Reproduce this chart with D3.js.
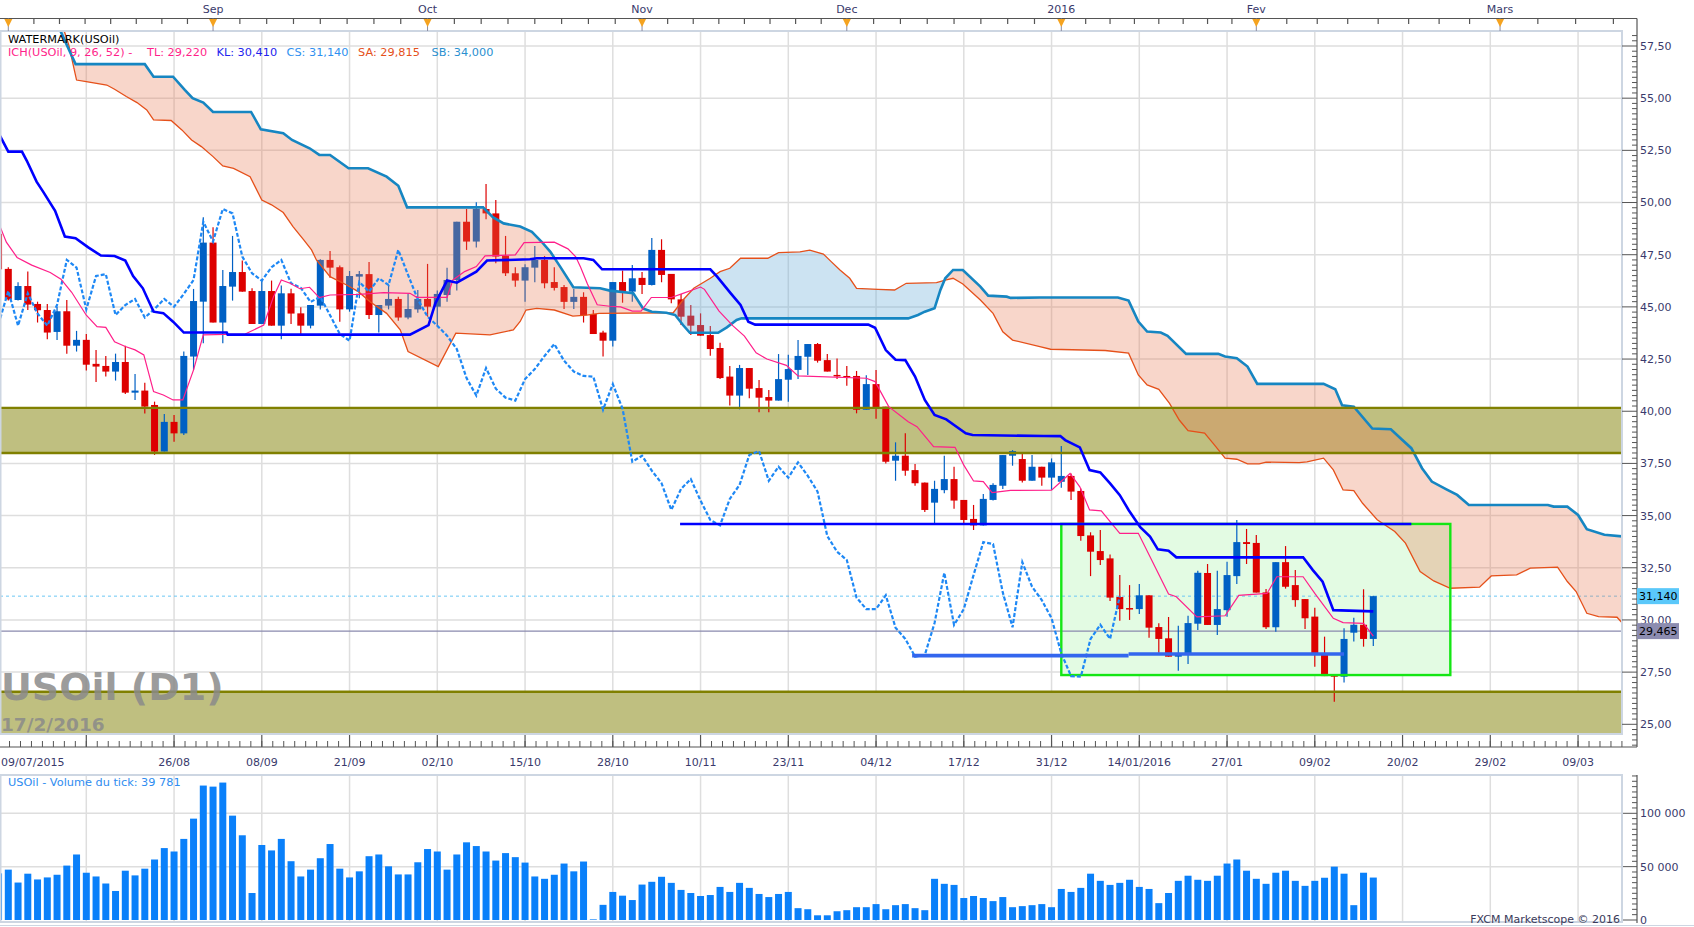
<!DOCTYPE html>
<html><head><meta charset="utf-8">
<script src="https://cdn.jsdelivr.net/npm/d3@7"></script>
<style>
body{margin:0;background:#fff;overflow:hidden}
svg{display:block}
text{font-family:"DejaVu Sans",Verdana,sans-serif}
</style></head>
<body><svg id="c" width="1694" height="927"></svg>
<script>
// ---------- DATA (bar index -1 = 31/07/2015 ... 140 = 17/02/2016) ----------
const firstIndex = -1;
const opens = [48.5,
 46.82,45.33,46.0,45.14,44.85,43.8,44.79,43.14,43.42,42.27,
 42.17,41.9,42.36,40.89,40.99,40.3,38.07,39.49,38.94,42.62,
 45.25,48.08,44.25,45.97,46.67,45.76,44.18,45.76,44.1,45.65,
 44.69,44.1,45.06,47.25,46.9,44.88,46.45,46.57,44.61,45.06,
 45.38,44.49,44.88,45.38,45.01,45.57,46.29,49.08,48.13,49.69,
 49.48,47.44,46.61,46.26,46.88,47.25,46.19,45.95,45.24,45.48,
 44.66,43.77,43.38,46.19,45.73,46.39,46.05,47.73,46.58,45.36,
 44.58,44.13,43.65,43.03,41.66,40.75,42.07,41.11,40.68,40.51,
 41.51,41.98,42.61,43.22,42.45,41.74,41.69,41.69,40.07,41.3,
 40.22,37.63,37.87,37.18,36.58,35.62,36.22,36.75,35.75,34.84,
 34.53,35.75,36.43,37.87,37.71,36.67,37.34,36.82,36.62,36.9,
 36.18,34.05,33.3,32.95,31.1,30.57,30.52,31.18,29.66,29.12,
 28.24,28.4,29.82,32.25,29.76,30.47,32.1,33.73,33.69,31.32,
 29.65,32.77,31.67,31.0,30.16,28.32,27.36,27.28,29.39,29.77,29.09];
const highs = [48.6,
 46.9,46.18,46.69,45.25,45.14,45.01,45.33,43.85,43.7,42.94,
 42.65,42.76,43.14,41.79,41.37,40.46,39.87,39.82,42.86,45.86,
 49.29,48.81,46.77,48.4,47.22,45.89,46.29,46.26,46.03,45.87,
 44.98,45.09,47.28,47.68,46.98,46.72,46.72,47.15,45.09,46.08,
 45.49,45.62,45.81,47.06,45.78,46.88,49.08,49.69,50.01,50.89,
 50.12,48.4,46.9,47.04,47.92,47.44,46.9,46.05,45.86,45.7,
 44.85,43.86,46.19,46.74,47.01,46.67,48.3,48.24,46.58,45.62,
 45.09,44.69,44.08,43.28,42.17,42.22,42.07,41.5,41.02,42.74,
 42.71,43.41,43.22,43.27,42.74,42.53,42.17,41.93,41.72,41.98,
 40.22,38.51,38.94,37.47,36.58,36.67,37.87,37.34,35.75,35.51,
 36.03,36.55,37.9,38.14,38.03,37.9,37.34,37.74,38.33,37.02,
 36.3,34.2,34.31,33.14,32.15,31.67,31.72,31.18,29.84,30.14,
 29.72,30.2,32.36,32.68,32.36,32.79,34.79,34.36,34.07,31.48,
 32.77,33.54,32.39,31.0,30.59,29.2,27.36,29.6,30.11,31.47,31.16];
const lows = [46.7,
 45.3,45.3,44.85,44.25,43.45,43.41,42.76,42.86,41.95,41.4,
 41.66,41.47,40.83,40.54,39.89,37.91,38.07,38.54,38.86,41.98,
 43.26,44.25,43.26,45.3,45.73,44.18,44.18,44.1,43.45,44.18,
 43.7,43.97,44.88,46.4,44.29,44.77,45.41,44.42,43.77,44.88,
 44.34,44.41,44.72,44.53,44.09,45.25,45.78,47.73,47.84,49.2,
 47.09,46.48,45.97,45.25,46.18,45.89,45.78,44.9,44.9,44.25,
 43.7,42.62,43.1,45.2,45.25,45.62,46.03,46.18,45.17,44.13,
 43.65,43.62,42.66,41.54,40.27,40.09,40.62,39.95,39.95,40.51,
 40.46,41.54,41.74,42.33,41.9,41.54,41.22,39.9,40.07,39.64,
 37.5,36.67,36.91,36.43,35.17,34.63,36.07,35.33,34.63,34.31,
 34.53,35.72,36.27,37.39,36.59,36.67,36.43,36.23,36.34,35.75,
 33.8,32.1,32.63,30.91,29.96,30.0,30.28,29.15,28.43,28.24,
 27.57,27.89,29.52,29.76,29.28,30.15,31.72,32.68,31.31,29.57,
 29.44,31.5,30.63,29.57,27.76,27.31,26.08,27.0,28.97,28.72,28.75];
const closes = [46.8,
 45.36,46.0,45.11,44.84,43.77,44.79,43.14,43.42,42.23,42.14,
 41.9,42.36,40.89,40.99,40.22,38.07,39.49,38.94,42.65,45.28,
 48.08,44.25,46.0,46.67,45.73,44.18,45.76,44.1,45.65,44.68,
 44.1,45.09,47.25,46.88,44.88,46.48,46.57,44.61,45.09,45.38,
 44.49,44.9,45.38,45.01,45.62,46.29,49.08,48.13,49.69,49.48,
 47.41,46.61,46.26,46.9,47.25,46.13,45.91,45.24,45.48,44.6,
 43.7,43.38,46.19,45.73,46.37,46.05,47.73,46.53,45.36,44.53,
 44.1,43.62,42.98,41.59,40.75,42.07,41.08,40.65,40.51,41.54,
 42.02,42.65,43.22,42.42,41.9,41.69,41.66,40.07,41.3,40.12,
 37.58,37.87,37.15,36.55,35.27,36.28,36.75,35.72,34.79,34.53,
 35.8,36.47,37.9,38.09,36.67,37.34,36.82,37.55,36.9,36.15,
 34.02,33.27,32.87,31.07,30.52,30.52,31.18,29.63,29.09,28.24,
 28.32,29.85,32.26,29.76,30.52,32.15,33.73,33.64,31.31,29.65,
 32.77,31.59,30.95,30.08,28.4,27.31,27.28,29.09,29.77,29.09,31.14];
const volumes = [43700,
 47200,35100,43400,38000,39900,42400,51000,61400,44300,40800,
 34200,27200,46200,41800,48100,56700,67400,64200,76000,95000,
 126000,125000,128800,97800,79400,25300,70300,65200,76000,55100,
 40800,47200,57900,71200,48100,39900,45600,59800,61400,50300,
 42700,42700,54100,66500,64200,47200,61400,72800,69300,64200,
 55700,62700,58900,53800,40800,38600,42400,52900,45600,54800,
 600,14200,26300,22800,18700,33200,35800,40500,34800,28200,
 25300,22500,23400,31000,26300,34800,30100,24400,21500,24400,
 26300,11100,10100,4400,4400,8200,9200,12000,12000,14900,
 10100,13900,14900,11100,9200,38600,33900,32900,20600,22500,
 20600,17700,21500,12000,13000,13900,14900,12000,29100,26300,
 30100,43400,36700,32900,34800,37700,31000,29100,15800,25300,
 36700,41500,37700,36700,41500,52900,56700,46200,38600,33900,
 44300,46200,36700,32000,36700,39600,50000,43400,13900,44300,39781];

// Ichimoku lines: [bar index, price]
const tenkan = [[-0.85,48.85],[-0.2,48.1],[0.9,47.37],[2.4,47.0],[4.3,46.65],[5.4,46.33],[6.5,45.7],[8,44.6],[9.1,44.05],[10,44.02],[10.9,43.33],[12,43.1],[13,42.94],[13.9,42.7],[14.9,40.94],[15.9,40.78],[16.9,40.54],[17.9,40.54],[19,41.98],[20,43.66],[24.3,43.7],[26.2,44.13],[27.2,45.49],[28,46.29],[28.9,46.13],[29.9,45.87],[30.9,45.94],[31.9,45.44],[33,45.57],[36,45.6],[38.5,45.68],[41.2,45.65],[41.9,45.46],[45,45.46],[45.6,46.29],[46.8,46.69],[48,46.93],[48.9,47.44],[52,47.49],[52.9,48.08],[56,48.1],[57.4,47.78],[58.2,47.4],[58.7,46.9],[59.4,46.1],[60.4,45.1],[61.7,45.03],[62.8,45.0],[64,44.8],[64.9,44.8],[65.95,45.45],[68,45.45],[69.2,45.65],[71,45.95],[71.4,45.84],[72.9,44.8],[74.3,44.1],[75.5,43.6],[76.7,42.8],[77.8,42.5],[79.8,42.2],[81,41.69],[88,41.58],[88.9,41.42],[90.3,40.22],[92.3,39.5],[93.2,39.26],[94.9,38.3],[97.1,38.27],[98,37.42],[99,36.66],[100,36.63],[100.9,36.1],[102.8,36.21],[107,36.22],[108.9,37.02],[109.9,36.38],[110.9,35.27],[112.1,35.23],[114,34.15],[115.9,34.15],[117.1,33.03],[119,31.24],[119.8,31.11],[121.9,30.15],[124.8,30.2],[126.2,31.18],[129.1,31.27],[130.1,32.07],[132.8,32.07],[134,31.27],[135.9,30.08],[136.9,29.87],[139,29.84],[140,29.22]];
const kijun = [[-0.85,53.19],[0,52.44],[1.4,52.44],[1.9,52.0],[2.9,51.0],[3.6,50.5],[4.8,49.6],[5.8,48.37],[6.9,48.29],[8.2,47.85],[9.5,47.46],[10.9,47.44],[12,47.22],[12.8,46.48],[13.8,45.89],[14.9,44.77],[15.9,44.7],[16.9,44.29],[18,43.77],[22.4,43.77],[22.5,43.67],[41.2,43.67],[43.1,44.13],[43.8,45.17],[45,46.26],[46,46.16],[48,46.69],[49.1,47.22],[53.5,47.28],[54.2,47.33],[59,47.33],[60,47.25],[60.9,46.8],[72,46.8],[72.7,46.45],[74.1,45.65],[75.1,45.09],[75.9,44.29],[76.6,44.15],[88.2,44.15],[88.9,44.0],[90,42.93],[91,42.47],[92,42.45],[93,41.66],[94,40.54],[95,39.82],[96.2,39.61],[97,39.34],[98.2,38.94],[98.9,38.86],[106.2,38.81],[107.9,38.81],[108.4,38.62],[109.9,38.27],[110.9,37.18],[112,37.07],[113,36.54],[114,35.98],[114.9,35.27],[116.1,34.44],[117.1,33.99],[117.9,33.38],[119,33.32],[119.8,33.0],[132.8,33.0],[133.8,32.39],[134.8,31.83],[135.9,30.47],[140,30.41]];
const senkouA = [[5.2,59.0],[6.2,57.55],[7,55.87],[8,55.79],[10.1,55.63],[10.9,55.43],[12.1,55.08],[13.2,54.79],[14.2,54.44],[14.9,53.96],[16.7,53.93],[17.8,53.48],[18.8,53.0],[19.8,52.68],[21,52.2],[22,51.75],[23.1,51.64],[24.8,51.24],[26,50.12],[27,49.89],[28.2,49.52],[29.2,48.85],[30.3,48.21],[31.1,47.73],[31.6,47.25],[33,46.45],[34.7,46.05],[35.9,45.73],[37.1,45.25],[38.8,44.69],[40.2,43.9],[41,42.86],[44.1,42.14],[45.9,43.74],[49.4,43.66],[51.8,43.9],[52.5,44.3],[53.1,44.85],[54.2,44.93],[56,44.85],[57.9,44.56],[59.3,44.61],[60.6,44.69],[68.2,44.72],[69.2,45.33],[70.3,45.89],[72,46.37],[73,46.69],[74,46.85],[75.1,47.33],[77.9,47.33],[79,47.6],[81.2,47.64],[82.2,47.72],[83.6,47.53],[84.4,47.17],[85.3,46.77],[86.3,46.37],[87,45.89],[89.2,45.84],[90.9,45.81],[92.1,46.13],[95.2,46.16],[96.2,46.29],[96.9,46.37],[97.9,46.1],[99.7,45.33],[101,44.69],[102,43.81],[103,43.41],[105.8,43.1],[106.9,42.97],[112.5,42.91],[114.9,42.78],[115.9,41.74],[116.8,41.26],[118,41.05],[119.1,40.38],[120.1,39.58],[121,39.07],[122.7,38.95],[123.7,38.39],[124.8,37.75],[126,37.7],[127.1,37.48],[128.3,37.48],[129,37.56],[132.4,37.54],[133.2,37.57],[134.9,37.75],[135.9,37.19],[136.9,36.23],[138,36.2],[138.9,35.59],[140.4,34.8],[142.2,34.24],[143.3,33.68],[144.8,32.32],[146.2,31.87],[147.9,31.52],[150.9,31.57],[152.1,32.11],[154.7,32.16],[156.1,32.48],[158.9,32.53],[159.9,31.84],[160.8,31.36],[161.9,30.32],[163.1,30.16],[165,30.13],[165.6,29.82]];
const senkouB = [[4.6,59.0],[5.3,58.27],[6,57.55],[6.9,56.63],[14,56.63],[14.9,56.03],[16.9,56.03],[18.1,55.4],[18.9,55.0],[20,54.79],[21,54.34],[24.9,54.34],[25.9,53.51],[28.2,53.32],[29.1,53.0],[30.9,52.6],[31.9,52.28],[33,52.28],[34.9,51.64],[36.9,51.64],[38.8,51.24],[40,50.8],[40.9,49.77],[48.7,49.77],[49.7,49.3],[50.8,49.0],[52.5,48.85],[53.7,48.6],[54.7,48.12],[55.6,47.64],[56.6,46.93],[57.95,45.94],[60.7,45.89],[61.7,45.78],[64.1,45.65],[65.1,44.93],[66,44.77],[67.5,44.72],[68.4,44.61],[69.2,44.13],[69.9,43.76],[72.8,43.76],[73.7,44.02],[74.7,44.37],[75.2,44.45],[92.3,44.45],[93.3,44.61],[94,44.77],[95,44.93],[95.6,45.81],[96.1,46.37],[96.9,46.77],[97.9,46.77],[99.7,45.97],[100.5,45.54],[102.4,45.49],[102.8,45.43],[105.8,45.45],[113.8,45.45],[114.9,45.3],[115.9,44.3],[116.8,43.82],[118.2,43.77],[118.9,43.61],[120.8,42.75],[124.1,42.75],[124.8,42.62],[126,42.54],[127.1,42.14],[128.1,41.31],[134.9,41.31],[136.1,41.05],[136.8,40.29],[138,40.22],[139.9,39.17],[141.8,39.14],[142.9,38.66],[143.9,38.23],[145,37.27],[146,36.63],[147.5,36.26],[148.6,35.99],[149.8,35.51],[157.9,35.51],[158.5,35.43],[159.9,35.43],[161,35.03],[161.9,34.35],[163.7,34.08],[165.6,34.0]];
const chikouShift = 26;

// drawn objects
const zones = [[38.0,40.16],[23.5,26.56]];
const box = [108.0,147.9,27.36,34.6];
const trendLines = [[68.9,143.9,34.6],[92.7,114.9,28.29],[114.9,137.0,28.37]];
const lastClose = 31.14, bidLine = 29.465;

// axis labels
const monthNames = ["","Sep","Oct","Nov","Dec","2016","Fev","Mars",""];
const monthIdx = [0,21,43,65,86,108,128,153,184];
const dateLabels = ["26/08","08/09","21/09","02/10","15/10","28/10","10/11","23/11","04/12","17/12","31/12","14/01/2016","27/01","09/02","20/02","29/02","09/03"];
const dateIdx = [17,26,35,44,53,62,71,80,89,98,107,116,125,134,143,152,161];
const priceTicks = d3.range(25,57.51,2.5);
const volTicks = [0,50000,100000];

// ---------- LAYOUT ----------
const P = {l:0, r:1622, t:31, b:734};
const V = {t:775, b:922};
const AX = 1637;
const x = d3.scaleLinear().domain([0,140]).range([8.3,1373.3]);
const y = d3.scaleLinear().domain([25,57.5]).range([724.3,46]);
const yv = d3.scaleLinear().domain([0,100000]).range([920,813.3]);
const axisCol = "#3a3a6c", gridCol = "#dedede";

const svg = d3.select("#c");
const defs = svg.append("defs");
defs.append("clipPath").attr("id","pclip").append("rect").attr("x",P.l).attr("y",P.t).attr("width",P.r-P.l).attr("height",P.b-P.t);
defs.append("clipPath").attr("id","vclip").append("rect").attr("x",P.l).attr("y",V.t).attr("width",P.r-P.l).attr("height",V.b-V.t);
const areaBelow = d3.area().x(d=>x(d[0])).y0(1000).y1(d=>y(d[1]));
const areaAbove = d3.area().x(d=>x(d[0])).y0(-100).y1(d=>y(d[1]));
defs.append("clipPath").attr("id","belowSA").append("path").attr("d",areaBelow(senkouA));
defs.append("clipPath").attr("id","belowSB").append("path").attr("d",areaBelow(senkouB));

const bars = opens.map((o,k)=>({i:k+firstIndex,o,h:highs[k],l:lows[k],c:closes[k],v:volumes[k]}));

// ---------- PRICE PANEL ----------
const g = svg.append("g").attr("clip-path","url(#pclip)");
g.selectAll(".hg").data(priceTicks).join("line").attr("x1",P.l).attr("x2",P.r)
 .attr("y1",d=>y(d)).attr("y2",d=>y(d)).attr("stroke",gridCol).attr("stroke-width",1.5);
const gridIdx = [8].concat(dateIdx);
g.selectAll(".vg").data(gridIdx).join("line").attr("x1",d=>x(d)).attr("x2",d=>x(d))
 .attr("y1",P.t).attr("y2",P.b).attr("stroke",gridCol).attr("stroke-width",1.5);
g.selectAll(".zf").data(zones).join("rect").attr("x",P.l).attr("width",P.r-P.l)
 .attr("y",d=>y(d[1])).attr("height",d=>y(d[0])-y(d[1])).attr("fill","#bfbf80");
g.append("rect").attr("x",x(box[0])).attr("width",x(box[1])-x(box[0]))
 .attr("y",y(box[3])).attr("height",y(box[2])-y(box[3])).attr("fill","#e3fbe3");
g.append("line").attr("x1",P.l).attr("x2",P.r).attr("y1",y(bidLine)).attr("y2",y(bidLine))
 .attr("stroke","#8a8aae").attr("stroke-width",1.2);
g.append("line").attr("x1",P.l).attr("x2",P.r).attr("y1",y(lastClose)).attr("y2",y(lastClose))
 .attr("stroke","#6cc8f4").attr("stroke-width",1).attr("stroke-dasharray","3,3");
const cg = g.append("g");
cg.selectAll(".wk").data(bars).join("line")
 .attr("x1",d=>x(d.i)).attr("x2",d=>x(d.i)).attr("y1",d=>y(d.h)).attr("y2",d=>y(d.l))
 .attr("stroke",d=>d.c>=d.o?"#0060c4":"#dd0000").attr("stroke-width",1.2);
cg.selectAll(".bd").data(bars).join("rect")
 .attr("x",d=>x(d.i)-3.5).attr("width",7)
 .attr("y",d=>y(Math.max(d.o,d.c))).attr("height",d=>Math.max(1.5,Math.abs(y(d.o)-y(d.c))))
 .attr("fill",d=>d.c>=d.o?"#0060c4":"#dd0000");
g.append("g").attr("clip-path","url(#belowSB)").append("path").attr("d",areaAbove(senkouA))
 .attr("fill","rgba(232,120,80,0.3)");
g.append("g").attr("clip-path","url(#belowSA)").append("path").attr("d",areaAbove(senkouB))
 .attr("fill","rgba(100,170,215,0.33)");
const ln = d3.line().x(d=>x(d[0])).y(d=>y(d[1]));
g.append("path").attr("d",ln(senkouA)).attr("fill","none").attr("stroke","#e5501a").attr("stroke-width",1.3);
g.append("path").attr("d",ln(senkouB)).attr("fill","none").attr("stroke","#1686c2").attr("stroke-width",2.6);
zones.forEach(z=>{
  z.forEach(v=>{ if(y(v)<P.b) g.append("line").attr("x1",P.l).attr("x2",P.r).attr("y1",y(v)).attr("y2",y(v))
    .attr("stroke","#808000").attr("stroke-width",2.4);});
});
g.append("rect").attr("x",x(box[0])).attr("width",x(box[1])-x(box[0]))
 .attr("y",y(box[3])).attr("height",y(box[2])-y(box[3])).attr("fill","none")
 .attr("stroke","#14e614").attr("stroke-width",2.4);
const chik = bars.filter(d=>d.i-chikouShift>=-1.5).map(d=>[d.i-chikouShift,d.c]);
g.append("path").attr("d",ln(chik)).attr("fill","none").attr("stroke","#1e88f5")
 .attr("stroke-width",2.2).attr("stroke-dasharray","4,2");
g.append("path").attr("d",ln(tenkan)).attr("fill","none").attr("stroke","#ff1f8a").attr("stroke-width",1.2);
g.append("path").attr("d",ln(kijun)).attr("fill","none").attr("stroke","#0000ff").attr("stroke-width",2.6);
g.selectAll(".tl").data(trendLines).join("line")
 .attr("x1",d=>x(d[0])).attr("x2",d=>x(d[1])).attr("y1",d=>y(d[2])).attr("y2",d=>y(d[2]))
 .attr("stroke",(d,k)=>k===0?"#0000ff":"#3366ee").attr("stroke-width",(d,k)=>k===0?2.6:3.6);
// watermark
g.append("text").attr("x",1).attr("y",700).attr("font-family","'Liberation Sans',Arial,sans-serif")
 .attr("font-weight","bold").attr("font-size",38).attr("fill","#8a8a8a").attr("fill-opacity",0.85).text("USOil (D1)");
g.append("text").attr("x",1).attr("y",731).attr("font-family","'Liberation Sans',Arial,sans-serif")
 .attr("font-weight","bold").attr("font-size",18.5).attr("fill","#8a8a8a").attr("fill-opacity",0.85).text("17/2/2016");

svg.append("rect").attr("x",P.l+0.5).attr("y",P.t).attr("width",P.r-P.l-0.5).attr("height",P.b-P.t)
 .attr("fill","none").attr("stroke","#cdd6e2").attr("stroke-width",2);

svg.append("text").attr("x",8).attr("y",42.5).attr("font-size",11.3).attr("fill","#000").text("WATERMARK(USOil)");
const legend = [["ICH(USOil, 9, 26, 52) -",8,"#ff1f8a"],["TL: 29,220",147,"#ff1f8a"],["KL: 30,410",216.5,"#2222ee"],
 ["CS: 31,140",286.5,"#2e90f0"],["SA: 29,815",358,"#e5501a"],["SB: 34,000",431.5,"#2a90d0"]];
svg.selectAll(".lg").data(legend).join("text").attr("x",d=>d[1]).attr("y",56).attr("font-size",11.3)
 .attr("fill",d=>d[2]).text(d=>d[0]);

// ---------- TOP AXIS ----------
const ax = svg.append("g");
ax.append("line").attr("x1",0).attr("x2",AX).attr("y1",18.5).attr("y2",18.5).attr("stroke","#555").attr("stroke-width",1.2);
for(let m=0;m<monthIdx.length-1;m++){
  for(let k=1;k<8;k++){
    const xi = x(monthIdx[m]+(monthIdx[m+1]-monthIdx[m])*k/8);
    if(xi<AX) ax.append("line").attr("x1",xi).attr("x2",xi).attr("y1",18.5).attr("y2",24).attr("stroke","#555").attr("stroke-width",1.2);
  }
}
monthIdx.slice(0,-1).forEach((mi,k)=>{
  const xm = x(mi);
  ax.append("line").attr("x1",xm).attr("x2",xm).attr("y1",18.5).attr("y2",31).attr("stroke","#8a8aa0").attr("stroke-width",1);
  ax.append("path").attr("d",`M${xm-4},19 L${xm+4},19 L${xm},27 Z`).attr("fill","#f5a31f");
  if(monthNames[k]) ax.append("text").attr("x",xm).attr("y",13).attr("text-anchor","middle")
     .attr("font-size",11).attr("fill",axisCol).text(monthNames[k]);
});

// ---------- RIGHT PRICE AXIS ----------
ax.append("line").attr("x1",AX).attr("x2",AX).attr("y1",18.5).attr("y2",747).attr("stroke","#555").attr("stroke-width",1.2);
d3.range(24,58.3,0.25).forEach(v=>{
  const yy=y(v); if(yy<P.t||yy>747) return;
  const major = Math.abs(v/2.5-Math.round(v/2.5))<1e-6;
  ax.append("line").attr("x1",major?P.r:AX-5).attr("x2",AX).attr("y1",yy).attr("y2",yy).attr("stroke","#555").attr("stroke-width",1);
});
const fmt = v=>d3.format(".2f")(v).replace(".",",");
ax.selectAll(".pl").data(priceTicks).join("text").attr("x",AX+3).attr("y",d=>y(d)).attr("dy","0.36em")
 .attr("font-size",11).attr("fill",axisCol).text(fmt);
[[lastClose,"#5ac8fa",d3.format(".3f")],[bidLine,"#8c8cb0",d3.format(".3f")]].forEach(b=>{
  const yy=y(b[0]);
  ax.append("rect").attr("x",AX).attr("y",yy-8).attr("width",42).attr("height",16).attr("fill",b[1]);
  ax.append("text").attr("x",AX+2).attr("y",yy).attr("dy","0.36em").attr("font-size",11).attr("fill","#000")
    .text(b[2](b[0]).replace(".",","));
});

// ---------- BOTTOM AXIS ----------
ax.append("line").attr("x1",0).attr("x2",AX).attr("y1",747).attr("y2",747).attr("stroke","#555").attr("stroke-width",1.2);
for(let t=-1;t<=170;t+=9/8){
  const xi=x(t); if(xi<0||xi>P.r) continue;
  ax.append("line").attr("x1",xi).attr("x2",xi).attr("y1",741).attr("y2",747).attr("stroke","#555").attr("stroke-width",1);
}
gridIdx.forEach(t=>{const xi=x(t);
  ax.append("line").attr("x1",xi).attr("x2",xi).attr("y1",735).attr("y2",747).attr("stroke","#555").attr("stroke-width",1.2);});
ax.selectAll(".dl").data(dateLabels).join("text").attr("x",(d,k)=>x(dateIdx[k])).attr("y",766)
 .attr("text-anchor","middle").attr("font-size",11).attr("fill",axisCol).text(d=>d);
ax.append("text").attr("x",1).attr("y",766).attr("font-size",11).attr("fill",axisCol).text("09/07/2015");

// ---------- VOLUME PANEL ----------
const vg = svg.append("g").attr("clip-path","url(#vclip)");
vg.selectAll(".vh").data([50000,100000]).join("line").attr("x1",P.l).attr("x2",P.r)
 .attr("y1",d=>yv(d)).attr("y2",d=>yv(d)).attr("stroke",gridCol).attr("stroke-width",1.5);
vg.selectAll(".vv").data(gridIdx).join("line").attr("x1",d=>x(d)).attr("x2",d=>x(d))
 .attr("y1",V.t).attr("y2",V.b).attr("stroke",gridCol).attr("stroke-width",1.5);
vg.selectAll(".vb").data(bars).join("rect").attr("x",d=>x(d.i)-3.5).attr("width",7)
 .attr("y",d=>yv(d.v)).attr("height",d=>yv(0)-yv(d.v)).attr("fill","#0a80fa");
svg.append("rect").attr("x",P.l+0.5).attr("y",V.t).attr("width",P.r-P.l-0.5).attr("height",V.b-V.t)
 .attr("fill","none").attr("stroke","#cdd6e2").attr("stroke-width",2);
svg.append("text").attr("x",8).attr("y",786).attr("font-size",11.3).attr("fill","#2e8cf0")
 .text("USOil - Volume du tick: 39 781");
svg.append("text").attr("x",1620).attr("y",923).attr("text-anchor","end").attr("font-size",11)
 .attr("fill","#3a3a5a").text("FXCM Marketscope © 2016");
ax.append("line").attr("x1",AX).attr("x2",AX).attr("y1",V.t).attr("y2",V.b+1).attr("stroke","#555").attr("stroke-width",1.2);
d3.range(0,140001,5000).forEach(v=>{
  const yy=yv(v); if(yy<V.t) return;
  const major = v%50000===0;
  ax.append("line").attr("x1",major?P.r:AX-5).attr("x2",AX).attr("y1",yy).attr("y2",yy).attr("stroke","#555").attr("stroke-width",1);
});
ax.selectAll(".vl").data(volTicks).join("text").attr("x",AX+3).attr("y",d=>yv(d)).attr("dy","0.36em")
 .attr("font-size",11).attr("fill",axisCol).text(d=>d3.format(",")(d).replace(/,/g," "));
svg.append("line").attr("x1",0).attr("x2",1694).attr("y1",925.5).attr("y2",925.5).attr("stroke","#cdd6e2").attr("stroke-width",1);
</script>
</body></html>
